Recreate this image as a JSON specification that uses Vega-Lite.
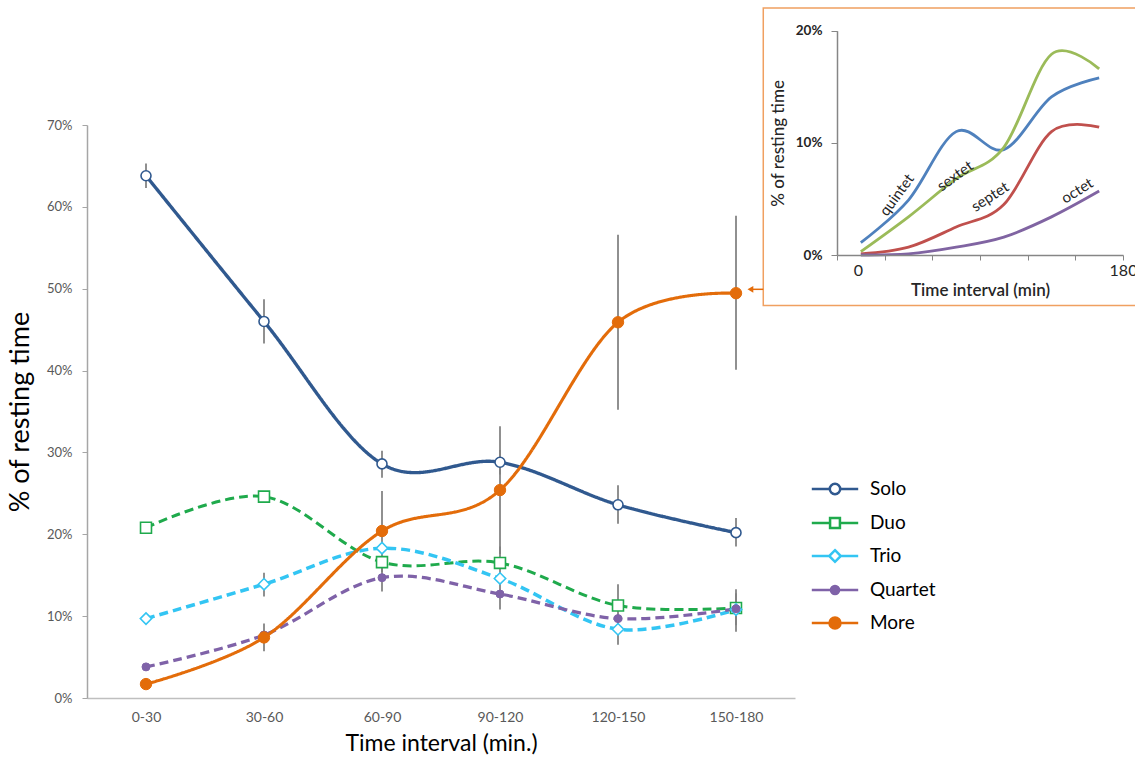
{
  "$schema": "https://vega.github.io/schema/vega-lite/v6.json",
  "width": 708,
  "height": 573,
  "autosize": {"type": "none"},
  "padding": {"left": 87, "top": 125, "right": 340, "bottom": 60},
  "background": "white",
  "config": {"view": {"stroke": null}, "font": "Lato"},
  "datasets": {
    "main": [
      {"g": "Solo", "t": "0-30", "v": 0.638, "lo": 0.623, "hi": 0.653},
      {"g": "Solo", "t": "30-60", "v": 0.460, "lo": 0.433, "hi": 0.487},
      {"g": "Solo", "t": "60-90", "v": 0.286, "lo": 0.269, "hi": 0.302},
      {"g": "Solo", "t": "90-120", "v": 0.288, "lo": 0.273, "hi": 0.303},
      {"g": "Solo", "t": "120-150", "v": 0.236, "lo": 0.213, "hi": 0.260},
      {"g": "Solo", "t": "150-180", "v": 0.202, "lo": 0.185, "hi": 0.220},
      {"g": "Duo", "t": "0-30", "v": 0.208, "lo": null, "hi": null},
      {"g": "Duo", "t": "30-60", "v": 0.246, "lo": null, "hi": null},
      {"g": "Duo", "t": "60-90", "v": 0.166, "lo": null, "hi": null},
      {"g": "Duo", "t": "90-120", "v": 0.165, "lo": 0.145, "hi": 0.185},
      {"g": "Duo", "t": "120-150", "v": 0.113, "lo": 0.087, "hi": 0.139},
      {"g": "Duo", "t": "150-180", "v": 0.110, "lo": 0.089, "hi": 0.133},
      {"g": "Trio", "t": "0-30", "v": 0.097, "lo": null, "hi": null},
      {"g": "Trio", "t": "30-60", "v": 0.139, "lo": 0.124, "hi": 0.153},
      {"g": "Trio", "t": "60-90", "v": 0.183, "lo": null, "hi": null},
      {"g": "Trio", "t": "90-120", "v": 0.146, "lo": null, "hi": null},
      {"g": "Trio", "t": "120-150", "v": 0.084, "lo": 0.065, "hi": 0.103},
      {"g": "Trio", "t": "150-180", "v": 0.108, "lo": 0.081, "hi": 0.128},
      {"g": "Quartet", "t": "0-30", "v": 0.038, "lo": null, "hi": null},
      {"g": "Quartet", "t": "30-60", "v": 0.077, "lo": null, "hi": null},
      {"g": "Quartet", "t": "60-90", "v": 0.147, "lo": 0.130, "hi": 0.164},
      {"g": "Quartet", "t": "90-120", "v": 0.127, "lo": 0.108, "hi": 0.146},
      {"g": "Quartet", "t": "120-150", "v": 0.097, "lo": null, "hi": null},
      {"g": "Quartet", "t": "150-180", "v": 0.109, "lo": null, "hi": null},
      {"g": "More", "t": "0-30", "v": 0.017, "lo": null, "hi": null},
      {"g": "More", "t": "30-60", "v": 0.074, "lo": 0.057, "hi": 0.091},
      {"g": "More", "t": "60-90", "v": 0.204, "lo": 0.154, "hi": 0.253},
      {"g": "More", "t": "90-120", "v": 0.254, "lo": 0.176, "hi": 0.332},
      {"g": "More", "t": "120-150", "v": 0.459, "lo": 0.352, "hi": 0.566},
      {"g": "More", "t": "150-180", "v": 0.4945, "lo": 0.401, "hi": 0.589}
    ],
    "inset": [
      {"s": "quintet", "t": 15, "v": 0.011},
      {"s": "quintet", "t": 45, "v": 0.049},
      {"s": "quintet", "t": 75, "v": 0.110},
      {"s": "quintet", "t": 105, "v": 0.094},
      {"s": "quintet", "t": 135, "v": 0.141},
      {"s": "quintet", "t": 165, "v": 0.158},
      {"s": "sextet", "t": 15, "v": 0.003},
      {"s": "sextet", "t": 45, "v": 0.034},
      {"s": "sextet", "t": 75, "v": 0.068},
      {"s": "sextet", "t": 105, "v": 0.096},
      {"s": "sextet", "t": 135, "v": 0.179},
      {"s": "sextet", "t": 165, "v": 0.166},
      {"s": "septet", "t": 15, "v": 0.001},
      {"s": "septet", "t": 45, "v": 0.007},
      {"s": "septet", "t": 75, "v": 0.025},
      {"s": "septet", "t": 105, "v": 0.045},
      {"s": "septet", "t": 135, "v": 0.110},
      {"s": "septet", "t": 165, "v": 0.114},
      {"s": "octet", "t": 15, "v": 0.0},
      {"s": "octet", "t": 45, "v": 0.001},
      {"s": "octet", "t": 75, "v": 0.007},
      {"s": "octet", "t": 105, "v": 0.016},
      {"s": "octet", "t": 135, "v": 0.034},
      {"s": "octet", "t": 165, "v": 0.057}
    ]
  },
  "layer": [
    {
      "data": {"name": "main"},
      "layer": [
        {
          "transform": [{"filter": "datum.lo != null"}],
          "mark": {"type": "rule", "color": "#808080", "strokeWidth": 1.75},
          "encoding": {
            "x": {
              "field": "t", "type": "ordinal",
              "scale": {"type": "point", "padding": 0.5, "domain": ["0-30", "30-60", "60-90", "90-120", "120-150", "150-180"]},
              "axis": {
                "orient": "bottom", "title": "Time interval (min.)", "labelAngle": 0, "ticks": false,
                "domainColor": "#BFBFBF", "domainWidth": 1.5, "labelColor": "#595959", "labelFontSize": 14,
                "labelPadding": 12, "titleFontSize": 23, "titleFontWeight": "normal", "titleColor": "#000000", "titlePadding": 8
              }
            },
            "y": {
              "field": "lo", "type": "quantitative",
              "scale": {"domain": [0, 0.7], "nice": false},
              "axis": {
                "orient": "left", "title": "% of resting time", "format": ".0%", "values": [0, 0.1, 0.2, 0.3, 0.4, 0.5, 0.6, 0.7],
                "grid": false, "domainColor": "#A6A6A6", "domainWidth": 1.5, "tickColor": "#A6A6A6", "tickSize": 5,
                "labelColor": "#595959", "labelFontSize": 13, "labelPadding": 10,
                "titleFontSize": 27, "titleFontWeight": "normal", "titleColor": "#000000", "titlePadding": 12
              }
            },
            "y2": {"field": "hi"}
          }
        },
        {
          "mark": {"type": "line", "interpolate": "cardinal"},
          "encoding": {
            "x": {"field": "t", "type": "ordinal"},
            "y": {"field": "v", "type": "quantitative"},
            "color": {
              "field": "g", "type": "nominal", "legend": null,
              "scale": {"range": ["#1FAA4C", "#E36C0A", "#7F62A8", "#30598F", "#33C5F3"]}
            },
            "strokeDash": {
              "field": "g", "type": "nominal", "legend": null,
              "scale": {"range": [[9, 5], [1, 0], [9, 5], [1, 0], [9, 5]]}
            },
            "strokeWidth": {
              "field": "g", "type": "nominal", "legend": null,
              "scale": {"range": [3, 3.5, 3, 3.5, 3]}
            }
          }
        },
        {
          "transform": [{"filter": "datum.g === 'Solo'"}],
          "mark": {"type": "point", "shape": "circle", "size": 100, "filled": true, "fill": "white", "stroke": "#30598F", "strokeWidth": 1.6, "opacity": 1},
          "encoding": {"x": {"field": "t", "type": "ordinal"}, "y": {"field": "v", "type": "quantitative"}}
        },
        {
          "transform": [{"filter": "datum.g === 'Duo'"}],
          "mark": {"type": "point", "shape": "square", "size": 120, "filled": true, "fill": "white", "stroke": "#1FAA4C", "strokeWidth": 1.6, "opacity": 1},
          "encoding": {"x": {"field": "t", "type": "ordinal"}, "y": {"field": "v", "type": "quantitative"}}
        },
        {
          "transform": [{"filter": "datum.g === 'Trio'"}],
          "mark": {"type": "point", "shape": "diamond", "size": 130, "filled": true, "fill": "white", "stroke": "#33C5F3", "strokeWidth": 1.6, "opacity": 1},
          "encoding": {"x": {"field": "t", "type": "ordinal"}, "y": {"field": "v", "type": "quantitative"}}
        },
        {
          "transform": [{"filter": "datum.g === 'Quartet'"}],
          "mark": {"type": "point", "shape": "circle", "size": 64, "filled": true, "fill": "#7F62A8", "stroke": "#7F62A8", "strokeWidth": 1, "opacity": 1},
          "encoding": {"x": {"field": "t", "type": "ordinal"}, "y": {"field": "v", "type": "quantitative"}}
        },
        {
          "transform": [{"filter": "datum.g === 'More'"}],
          "mark": {"type": "point", "shape": "circle", "size": 130, "filled": true, "fill": "#E36C0A", "stroke": "#E36C0A", "strokeWidth": 1, "opacity": 1},
          "encoding": {"x": {"field": "t", "type": "ordinal"}, "y": {"field": "v", "type": "quantitative"}}
        },
        {
          "transform": [{"filter": "false"}],
          "mark": {"type": "point", "filled": true, "opacity": 1, "strokeWidth": 2.5, "size": 841},
          "encoding": {
            "x": {"field": "t", "type": "ordinal"},
            "y": {"field": "v", "type": "quantitative"},
            "shape": {
              "field": "g", "type": "nominal",
              "scale": {"domain": ["Solo", "Duo", "Trio", "Quartet", "More"], "range": [
                "M-1.6,0H-0.36M0.36,0H1.6M0.36,0A0.36,0.36,0,1,1,-0.36,0A0.36,0.36,0,1,1,0.36,0Z",
                "M-1.6,0H-0.34M0.34,0H1.6M-0.34,-0.34H0.34V0.34H-0.34Z",
                "M-1.6,0H-0.4M0.4,0H1.6M0,-0.4L0.4,0L0,0.4L-0.4,0Z",
                "M-1.6,0H-0.28M0.28,0H1.6M0.28,0A0.28,0.28,0,1,1,-0.28,0A0.28,0.28,0,1,1,0.28,0Z",
                "M-1.6,0H-0.38M0.38,0H1.6M0.38,0A0.38,0.38,0,1,1,-0.38,0A0.38,0.38,0,1,1,0.38,0Z"
              ]},
              "legend": {"title": null, "orient": "none", "legendX": 732, "legendY": 348, "labelFontSize": 19, "labelColor": "#000000", "labelFont": "Lato", "symbolSize": 841, "symbolStrokeWidth": 2.5, "symbolOpacity": 1, "rowPadding": 7, "labelOffset": 19}
            },
            "stroke": {
              "field": "g", "type": "nominal",
              "scale": {"domain": ["Solo", "Duo", "Trio", "Quartet", "More"], "range": ["#30598F", "#1FAA4C", "#33C5F3", "#7F62A8", "#E36C0A"]},
              "legend": {"title": null, "orient": "none", "legendX": 732, "legendY": 348, "labelFontSize": 19, "labelColor": "#000000", "labelFont": "Lato", "symbolSize": 841, "symbolStrokeWidth": 2.5, "symbolOpacity": 1, "rowPadding": 7, "labelOffset": 19}
            },
            "fill": {
              "field": "g", "type": "nominal",
              "scale": {"domain": ["Solo", "Duo", "Trio", "Quartet", "More"], "range": ["#FFFFFF", "#FFFFFF", "#FFFFFF", "#7F62A8", "#E36C0A"]},
              "legend": {"title": null, "orient": "none", "legendX": 732, "legendY": 348, "labelFontSize": 19, "labelColor": "#000000", "labelFont": "Lato", "symbolSize": 841, "symbolStrokeWidth": 2.5, "symbolOpacity": 1, "rowPadding": 7, "labelOffset": 19}
            }
          }
        }
      ]
    },
    {
      "layer": [
        {
          "data": {"values": [{}]},
          "mark": {"type": "rect", "fill": "transparent", "stroke": "#F0A060", "strokeWidth": 1.5},
          "encoding": {
            "x": {
              "datum": -46.4, "type": "quantitative",
              "scale": {"domain": [0, 180], "range": [750, 1036], "nice": false, "zero": false},
              "axis": {
                "orient": "bottom", "offset": -443, "zindex": 1, "values": [0, 30, 60, 90, 120, 150, 180],
                "labelExpr": "datum.value == 0 || datum.value == 180 ? datum.label : ''",
                "labelOffset": {"condition": {"test": "datum.value == 0", "value": 21}, "value": 0},
                "grid": false, "domainColor": "#868686", "domainWidth": 1.5, "tickColor": "#868686", "tickSize": 5,
                "labelColor": "#262626", "labelFontSize": 16, "labelPadding": 2, "labelOverlap": false, "labelFlush": false,
                "title": "Time interval (min)", "titleFontSize": 17, "titleFontWeight": 600, "titleColor": "#262626", "titlePadding": 4
              }
            },
            "x2": {"datum": 230},
            "y": {
              "datum": 0.2203, "type": "quantitative",
              "scale": {"domain": [0, 0.2], "range": [130, -94.3], "nice": false, "zero": false},
              "axis": {
                "orient": "left", "offset": -750, "zindex": 1, "values": [0, 0.1, 0.2], "format": ".0%",
                "grid": false, "domainColor": "#868686", "domainWidth": 1.5, "tickColor": "#868686", "tickSize": 6,
                "labelColor": "#262626", "labelFontSize": 13.5, "labelFontWeight": "bold", "labelPadding": 9,
                "title": "% of resting time", "titleFontSize": 17, "titleFontWeight": 500, "titleColor": "#262626", "titlePadding": 8
              }
            },
            "y2": {"datum": -0.0451}
          }
        },
        {
          "data": {"values": [{}]},
          "mark": {"type": "rule", "color": "#E46C0A", "strokeWidth": 1.5},
          "encoding": {
            "x": {"datum": -46.4, "type": "quantitative"},
            "x2": {"datum": -53},
            "y": {"datum": -0.0306, "type": "quantitative"}
          }
        },
        {
          "data": {"values": [{}]},
          "mark": {"type": "point", "shape": "triangle-left", "filled": true, "color": "#E46C0A", "size": 45, "opacity": 1},
          "encoding": {
            "x": {"datum": -54.5, "type": "quantitative"},
            "y": {"datum": -0.0306, "type": "quantitative"}
          }
        },
        {
          "data": {"name": "inset"},
          "mark": {"type": "line", "interpolate": "cardinal", "strokeWidth": 2.8},
          "encoding": {
            "x": {"field": "t", "type": "quantitative"},
            "y": {"field": "v", "type": "quantitative"},
            "color": {
              "field": "s", "type": "nominal", "legend": null,
              "scale": {"domain": ["quintet", "sextet", "septet", "octet"], "range": ["#4F81BD", "#9BBB59", "#C0504D", "#8064A2"]}
            }
          }
        },
        {
          "data": {"values": [{}]},
          "mark": {"type": "text", "angle": -54, "fontSize": 15, "color": "#262626"},
          "encoding": {"x": {"datum": 37.6, "type": "quantitative"}, "y": {"datum": 0.0536, "type": "quantitative"}, "text": {"value": "quintet"}}
        },
        {
          "data": {"values": [{}]},
          "mark": {"type": "text", "angle": -36, "fontSize": 15, "color": "#262626"},
          "encoding": {"x": {"datum": 74.3, "type": "quantitative"}, "y": {"datum": 0.0705, "type": "quantitative"}, "text": {"value": "sextet"}}
        },
        {
          "data": {"values": [{}]},
          "mark": {"type": "text", "angle": -33, "fontSize": 15, "color": "#262626"},
          "encoding": {"x": {"datum": 96.3, "type": "quantitative"}, "y": {"datum": 0.052, "type": "quantitative"}, "text": {"value": "septet"}}
        },
        {
          "data": {"values": [{}]},
          "mark": {"type": "text", "angle": -32, "fontSize": 15, "color": "#262626"},
          "encoding": {"x": {"datum": 151.2, "type": "quantitative"}, "y": {"datum": 0.0574, "type": "quantitative"}, "text": {"value": "octet"}}
        }
      ]
    }
  ],
  "resolve": {
    "scale": {"x": "independent", "y": "independent", "color": "independent"},
    "axis": {"x": "independent", "y": "independent"}
  }
}
